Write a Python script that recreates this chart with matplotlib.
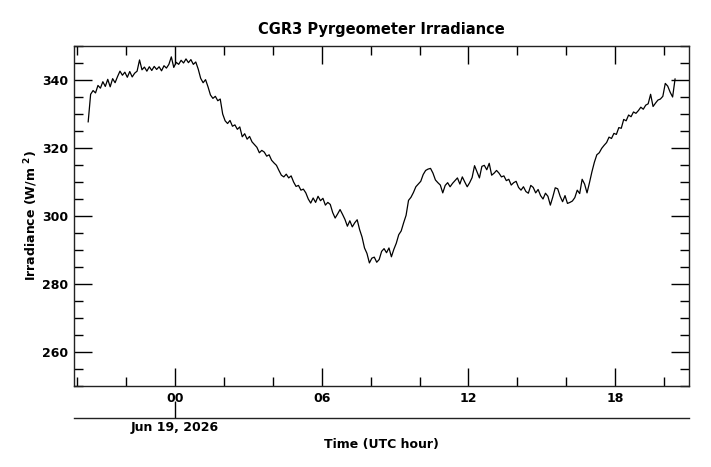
import numpy as np
import matplotlib
matplotlib.use("Agg")
import matplotlib.pyplot as plt
from matplotlib.ticker import MultipleLocator

# Irradiance values (W/m^2), sampled every 0.1 h starting at -3.55 h (UTC, relative to Jun 19, 2026 00:00)
t_start = -3.55
t_step = 0.1
irradiance = [
    327.7, 335.8, 336.9, 336.2, 338.4, 337.6, 339.5, 338.1, 340.2, 338.0,
    340.4, 339.2, 341.0, 342.6, 341.4, 342.3, 340.8, 342.5, 340.9, 342.0,
    342.6, 345.9, 343.0, 343.8, 342.6, 343.9, 342.8, 344.0, 343.1, 343.9,
    342.7, 344.2, 343.5, 344.6, 346.8, 343.7, 345.2, 344.6, 345.8, 345.0,
    346.2, 345.1, 346.0, 344.6, 345.3, 343.2,
    340.5, 339.2, 340.1, 338.0, 335.6, 334.6, 335.2, 333.9, 334.4, 330.0,
    328.0, 327.2, 328.1, 326.4, 326.8, 325.5, 326.2, 323.3, 324.2, 322.6,
    323.4, 321.8, 321.0, 320.2, 318.6, 319.3, 318.8, 317.6, 318.0, 316.4,
    315.6, 314.9, 313.4, 312.0, 311.5, 312.3, 311.2, 311.8, 310.0, 308.7,
    309.0, 307.6, 307.9, 306.8, 305.0, 303.8, 305.3, 304.0, 305.8, 304.5,
    305.2, 303.2, 304.0, 303.4, 301.0, 299.4, 300.6, 301.9, 300.5, 299.0,
    297.0, 298.6, 296.8, 298.0, 298.9, 296.0, 293.8, 290.6, 289.0, 286.2,
    287.6, 287.9, 286.4, 287.2, 289.6, 290.4, 289.2, 290.6, 288.0, 290.2,
    292.0, 294.5, 295.6, 298.0, 300.2, 304.6, 305.5, 306.9, 308.6, 309.4,
    310.2, 312.2, 313.4, 313.8, 314.0, 312.6, 310.6, 309.8, 309.1, 306.8,
    309.0, 309.8, 308.6, 309.6, 310.4, 311.2, 309.4, 311.5, 310.0, 308.6,
    309.8, 311.3, 314.8, 313.0, 311.2, 314.6, 314.9, 313.6, 315.5, 312.0,
    312.6, 313.4, 312.6, 311.5, 311.8, 310.4, 310.8, 309.1, 309.8, 310.2,
    308.4, 307.6, 308.6, 307.2, 306.7, 309.0, 308.4, 306.8, 307.8, 306.0,
    305.0, 306.7, 305.8, 303.2, 305.6, 308.3, 308.0, 305.8, 304.2, 306.0,
    303.7, 304.0, 304.4, 305.4, 307.6, 306.6, 310.8, 309.4, 306.8, 309.8,
    313.0, 315.8, 318.0, 318.6, 319.9, 320.8, 321.6, 323.2, 322.8, 324.3,
    324.0, 326.0, 325.8, 328.4, 328.0, 329.7, 329.2, 330.6, 330.2, 331.0,
    332.0, 331.4, 332.6, 333.0, 335.8, 332.2, 333.2, 334.1, 334.4, 335.2,
    339.0, 338.2, 336.4, 335.0, 340.3,
]
hours = t_start + t_step * np.arange(len(irradiance))

x_ticks = [0, 6, 12, 18]
x_ticklabels = ["00", "06", "12", "18"]
date_label = "Jun 19, 2026"
title = "CGR3 Pyrgeometer Irradiance"
ylabel = r"Irradiance (W/m $^{2}$)"
xlabel = "Time (UTC hour)"

plt.rcParams["font.family"] = ["DejaVu Sans"]
plt.rcParams["font.weight"] = "bold"

fig = plt.figure(figsize=(7.11, 4.67), dpi=100)
ax = fig.add_axes([74 / 711, 81 / 467, 615 / 711, 340 / 467])

ax.plot(hours, irradiance, color="black", linewidth=0.9)

ax.set_xlim(-4.13, 21.02)
ax.set_ylim(250, 350)

ax.set_xticks(x_ticks)
ax.set_xticklabels(x_ticklabels, fontsize=9, fontweight="bold")
ax.xaxis.set_minor_locator(MultipleLocator(2))
ax.yaxis.set_major_locator(MultipleLocator(20))
ax.yaxis.set_minor_locator(MultipleLocator(5))
for lbl in ax.get_yticklabels():
    lbl.set_fontsize(9)
    lbl.set_fontweight("bold")

ax.tick_params(axis="both", which="major", direction="in", length=13, width=1,
               top=True, right=True, labelsize=9, pad=4)
ax.tick_params(axis="both", which="minor", direction="in", length=6.5, width=1,
               top=True, right=True)
for sp in ax.spines.values():
    sp.set_linewidth(1)
    sp.set_color("#222222")

ax.set_ylabel(ylabel, fontsize=9, fontweight="bold", labelpad=2)
ax.set_title(title, fontsize=10.5, fontweight="bold", pad=9)

sec = ax.secondary_xaxis(-32 / 340)
sec.set_xticks([0])
sec.set_xticklabels([date_label], fontsize=9, fontweight="bold")
sec.tick_params(axis="x", direction="in", length=12, width=1, pad=2)
sec.spines["bottom"].set_linewidth(1)
sec.spines["bottom"].set_color("#222222")
sec.set_xlabel(xlabel, fontsize=9, fontweight="bold", labelpad=3)

fig.savefig("out.png", dpi=100)
